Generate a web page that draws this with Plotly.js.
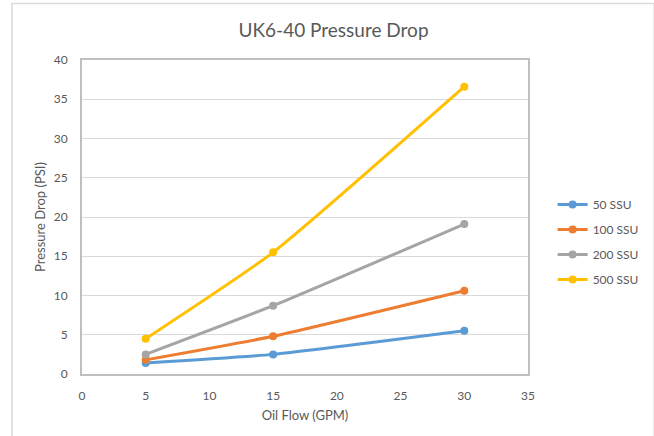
<!DOCTYPE html>
<html>
<head>
<meta charset="utf-8">
<script src="https://cdn.plot.ly/plotly-3.0.1.min.js"></script>
<style>html,body{margin:0;padding:0;background:#fff;}#chart{width:654px;height:436px;}</style>
</head>
<body>
<div id="chart"></div>
<script>
var flow = [5, 15, 30];
var seriesNames = ["50 SSU", "100 SSU", "200 SSU", "500 SSU"];
var ssu50 = [1.4, 2.5, 5.5];
var ssu100 = [1.8, 4.8, 10.6];
var ssu200 = [2.5, 8.7, 19.1];
var ssu500 = [4.5, 15.5, 36.6];
var xTicks = [0, 5, 10, 15, 20, 25, 30, 35];
var yTicks = [0, 5, 10, 15, 20, 25, 30, 35, 40];

var colors = ["#5b9bd5", "#ed7d31", "#a5a5a5", "#ffc000"];
var values = [ssu50, ssu100, ssu200, ssu500];
var font = "Lato, 'Open Sans', sans-serif";

var traces = values.map(function (v, i) {
  return {
    x: flow, y: v, name: seriesNames[i], type: "scatter", mode: "lines+markers",
    legendgroup: "g" + i,
    line: {color: colors[i], width: 3, shape: "spline", smoothing: 0.5},
    marker: {color: colors[i], size: 8}
  };
});

var layout = {
  width: 654, height: 436,
  margin: {l: 82, r: 126, t: 60, b: 62, autoexpand: false},
  paper_bgcolor: "#fff", plot_bgcolor: "#fff",
  font: {family: font, color: "#595959", size: 12},
  title: {text: "UK6-40 Pressure Drop", font: {family: font, size: 19, color: "#595959"}, x: 0.51, xanchor: "center", y: 0.93, yanchor: "middle"},
  xaxis: {
    range: [0, 35], tickvals: xTicks, ticktext: xTicks.map(String),
    showgrid: false, zeroline: false,
    showline: true, linecolor: "#bfbfbf", linewidth: 2, mirror: true,
    ticks: "outside", ticklen: 10, tickcolor: "rgba(0,0,0,0)",
    tickfont: {family: font, size: 12, color: "#595959"},
    title: {text: "Oil Flow (GPM)", font: {family: font, size: 13, color: "#595959"}, standoff: 8}
  },
  yaxis: {
    range: [0, 40], tickvals: yTicks, ticktext: yTicks.map(String),
    showgrid: true, gridcolor: "#d9d9d9", gridwidth: 1, zeroline: false,
    showline: true, linecolor: "#bfbfbf", linewidth: 2, mirror: true,
    ticks: "outside", ticklen: 10, tickcolor: "rgba(0,0,0,0)",
    tickfont: {family: font, size: 12, color: "#595959"},
    title: {text: "Pressure Drop (PSI)", font: {family: font, size: 13, color: "#595959"}, standoff: 5}
  },
  legend: {
    xref: "container", yref: "container",
    x: 0.845, xanchor: "left", y: 0.445, yanchor: "middle",
    font: {family: font, size: 12, color: "#595959"},
    tracegroupgap: 6, itemwidth: 30, bgcolor: "rgba(0,0,0,0)"
  },
  shapes: [{
    type: "rect", xref: "paper", yref: "paper",
    x0: -0.157, x1: 1.283, y0: -0.3, y1: 1.18,
    line: {color: "#d9d9d9", width: 1.5}
  }]
};

Plotly.newPlot("chart", traces, layout, {displayModeBar: false, staticPlot: true});
</script>
</body>
</html>
